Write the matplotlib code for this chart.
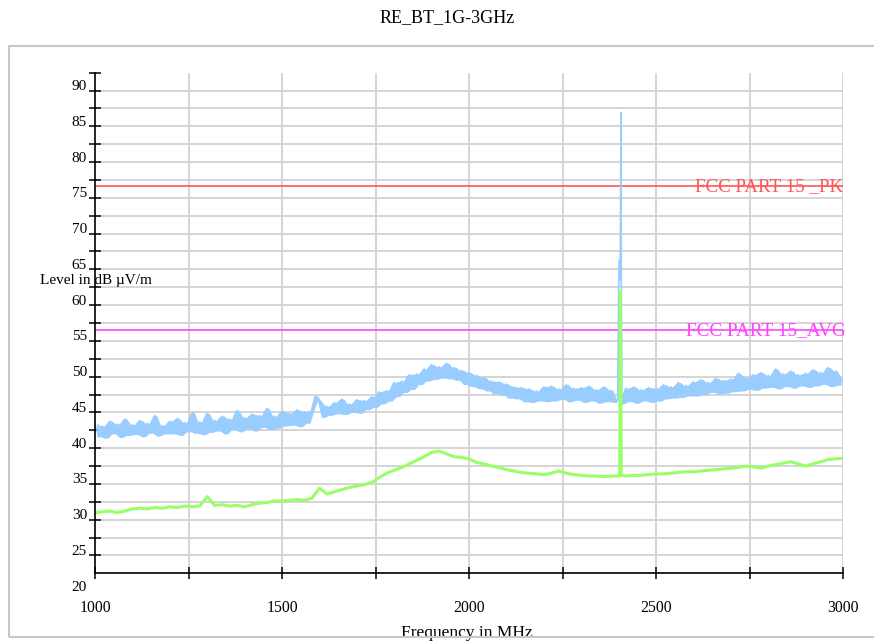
import numpy as np
import matplotlib
matplotlib.use('Agg')
import matplotlib.pyplot as plt
from matplotlib.patches import Rectangle
from matplotlib.transforms import offset_copy

plt.rcParams['font.family'] = ['Liberation Serif', 'DejaVu Serif']

# sweep grids (MHz)
sweep_pk = np.arange(1000, 3001, 10)
sweep_av = np.arange(1000, 3001, 20)

# peak detector trace, dBuV/m, one value per 10 MHz
peak_level = [
    43.5, 41.6, 43.1, 41.4, 43.8, 42.0, 43.4, 41.5, 44.1, 41.8,
    43.3, 41.9, 43.9, 41.6, 43.5, 42.1, 44.6, 41.7, 43.2, 42.0,
    43.8, 42.0, 44.2, 41.8, 43.6, 42.3, 45.0, 42.1, 43.7, 41.9,
    44.9, 42.2, 43.9, 42.4, 44.5, 42.0, 44.1, 42.6, 45.3, 42.3,
    44.3, 42.7, 44.8, 42.4, 44.6, 42.9, 45.6, 42.6, 44.5, 42.8,
    45.2, 43.1, 44.9, 43.2, 45.4, 43.0, 45.1, 43.5, 45.3, 47.3,
    46.6, 44.3, 45.9, 44.6, 46.4, 44.8, 46.9, 44.7, 46.2, 45.0,
    46.8, 44.9, 46.7, 45.4, 47.2, 45.7, 47.9, 46.2, 48.1, 46.6,
    49.2, 47.2, 49.4, 47.8, 50.3, 48.2, 50.4, 48.9, 51.1, 49.4,
    51.7, 49.6, 51.4, 49.8, 51.9, 49.7, 51.3, 49.5, 50.9, 48.9,
    50.6, 48.6, 50.2, 48.3, 49.9, 48.0, 49.4, 47.6, 49.3, 47.4,
    49.0, 47.0, 48.6, 46.9, 48.5, 46.5, 48.3, 46.4, 48.0, 46.6,
    48.6, 46.5, 48.7, 46.6, 48.3, 46.8, 48.9, 46.5, 48.4, 46.7,
    48.5, 46.4, 48.7, 46.6, 48.2, 46.3, 48.6, 46.5, 48.1, 46.4,
    48.3, 46.2, 48.4, 46.5, 48.6, 46.3, 48.2, 46.6, 48.5, 46.4,
    48.4, 46.6, 48.9, 46.9, 48.6, 47.0, 49.2, 47.1, 48.8, 47.3,
    49.3, 47.3, 49.6, 47.5, 49.2, 47.8, 49.8, 47.6, 49.5, 47.7,
    49.7, 47.9, 50.5, 48.0, 49.9, 48.2, 50.3, 48.1, 50.6, 48.4,
    50.2, 48.5, 51.1, 48.3, 50.4, 48.6, 50.8, 48.4, 50.3, 48.7,
    50.5, 48.5, 51.0, 48.7, 50.6, 48.9, 51.3, 48.6, 50.8, 48.8,
    49.8,
]

# average detector trace, dBuV/m, one value per 20 MHz
avg_level = [
    31.0, 31.1, 31.2, 31.0, 31.2, 31.5, 31.6, 31.5, 31.7, 31.6,
    31.8, 31.7, 31.9, 31.8, 31.9, 33.2, 32.0, 32.1, 31.9, 32.0,
    31.8, 32.1, 32.3, 32.4, 32.6, 32.6, 32.7, 32.8, 32.7, 33.0,
    34.4, 33.6, 33.9, 34.2, 34.5, 34.7, 34.9, 35.2, 35.9, 36.5,
    36.9, 37.3, 37.8, 38.3, 38.8, 39.4, 39.6, 39.2, 38.8, 38.7,
    38.5, 38.0, 37.8, 37.5, 37.3, 37.0, 36.8, 36.6, 36.5, 36.4,
    36.3, 36.5, 36.8, 36.5, 36.3, 36.2, 36.1, 36.1, 36.0, 36.1,
    36.1, 36.1, 36.2, 36.2, 36.3, 36.4, 36.4, 36.5, 36.6, 36.7,
    36.7, 36.8, 36.9, 37.0, 37.1, 37.2, 37.3, 37.5, 37.4, 37.2,
    37.5, 37.7, 37.9, 38.1, 37.8, 37.5, 37.8, 38.1, 38.4, 38.5,
    38.6,
]

# BT carrier around 2.4 GHz
carrier_freq_pk = [2398, 2400, 2402, 2404, 2406, 2408]
carrier_pk = [46.8, 64.0, 66.3, 63.5, 87.0, 47.5]
carrier_freq_av = [2403, 2405, 2407]
carrier_av = [36.1, 61.9, 36.2]

limit_pk = 76.7
limit_av = 56.5

x_major = [1000, 1500, 2000, 2500, 3000]
x_minor = [1250, 1750, 2250, 2750]
y_labels = [20, 25, 30, 35, 40, 45, 50, 55, 60, 65, 70, 75, 80, 85, 90]


def merge(freq, level, cfreq, clevel):
    freq = np.asarray(freq, float)
    level = np.asarray(level, float)
    keep = (freq < min(cfreq) - 1) | (freq > max(cfreq) + 1)
    f = np.concatenate([freq[keep], cfreq])
    v = np.concatenate([level[keep], clevel])
    order = np.argsort(f)
    return f[order], v[order]


fig = plt.figure(figsize=(8.74, 6.42), dpi=100)
ax = fig.add_axes([95 / 874, 1 - 573.3 / 642, 748 / 874, (573.3 - 72.7) / 642])

ax.set_xlim(1000, 3000)
ax.set_ylim(22.5, 92.5)

# grid
for y in np.arange(25, 90.1, 2.5):
    ax.axhline(y, color='#d2d2d2', lw=1.3, zorder=0)
for x in x_minor + x_major[1:]:
    ax.axvline(x, color='#d2d2d2', lw=1.3, zorder=0)

# limit lines
ax.axhline(limit_pk, color='#ff5555', lw=1.2, zorder=2)
ax.axhline(limit_av, color='#ff44ff', lw=1.2, zorder=2)

# peak trace: noisy sweep drawn as filled band between neighbouring samples
f_pk, v_pk = merge(sweep_pk, peak_level, carrier_freq_pk, carrier_pk)
f_mid = (f_pk[:-1] + f_pk[1:]) / 2
lo = np.minimum(v_pk[:-1], v_pk[1:])
hi = np.maximum(v_pk[:-1], v_pk[1:])
ax.fill_between(f_mid, lo, hi, color='#99ccff', lw=0, zorder=3)
ax.plot(f_pk, v_pk, color='#99ccff', lw=1.0, zorder=3)

f_av, v_av = merge(sweep_av, avg_level, carrier_freq_av, carrier_av)
ax.plot(f_av, v_av, color='#99ff66', lw=2.2, zorder=4)

# limit labels
t_pk = offset_copy(ax.transData, fig=fig, x=0, y=-5, units='dots')
t_av = offset_copy(ax.transData, fig=fig, x=3, y=-5, units='dots')
ax.text(3000, limit_pk, 'FCC PART 15 _PK', transform=t_pk, ha='right',
        va='baseline', color='#ff5555', fontsize=13.7, zorder=5)
ax.text(3000, limit_av, 'FCC PART 15_AVG', transform=t_av, ha='right',
        va='baseline', color='#ff44ff', fontsize=13.9, zorder=5, clip_on=False)

# axes styling
for side in ['top', 'right']:
    ax.spines[side].set_visible(False)
for side in ['left', 'bottom']:
    ax.spines[side].set_color('black')
    ax.spines[side].set_linewidth(1.2)
    ax.spines[side].set_zorder(6)

ax.set_xticks(x_major)
ax.set_xticks(x_minor, minor=True)
ax.set_xticklabels([str(x) for x in x_major])
ax.set_yticks(np.arange(25, 92.6, 5))
ax.set_yticks(np.arange(27.5, 92.6, 5), minor=True)
ax.tick_params(axis='both', which='both', direction='inout', length=8,
               width=1.1, colors='black')
ax.tick_params(axis='x', pad=15, labelsize=11.3)
ax.tick_params(axis='y', labelleft=False)

# y tick labels sit a little above their ticks
t_y = offset_copy(ax.get_yaxis_transform(), fig=fig, x=-8, y=4, units='dots')
for v in y_labels:
    ax.text(0, v, str(v), transform=t_y, ha='right', va='center',
            fontsize=11.0, clip_on=False)

fig.text(447 / 874, 1 - 18 / 642, 'RE_BT_1G-3GHz', ha='center', va='center',
         fontsize=13)
fig.text(40 / 874, 1 - 280 / 642, 'Level in dB µV/m', ha='left', va='center',
         fontsize=11.0, zorder=7)
fig.text(467 / 874, 1 - 625 / 642, 'Frequency in MHz', ha='center', va='top',
         fontsize=12.5)

frame = Rectangle((9 / 874, 1 - 636.7 / 642), 1.0, (636.7 - 45.7) / 642,
                  transform=fig.transFigure, fill=False, edgecolor='#c8c8c8',
                  lw=1.5, zorder=10)
fig.add_artist(frame)

fig.savefig('out.png', dpi=100)
